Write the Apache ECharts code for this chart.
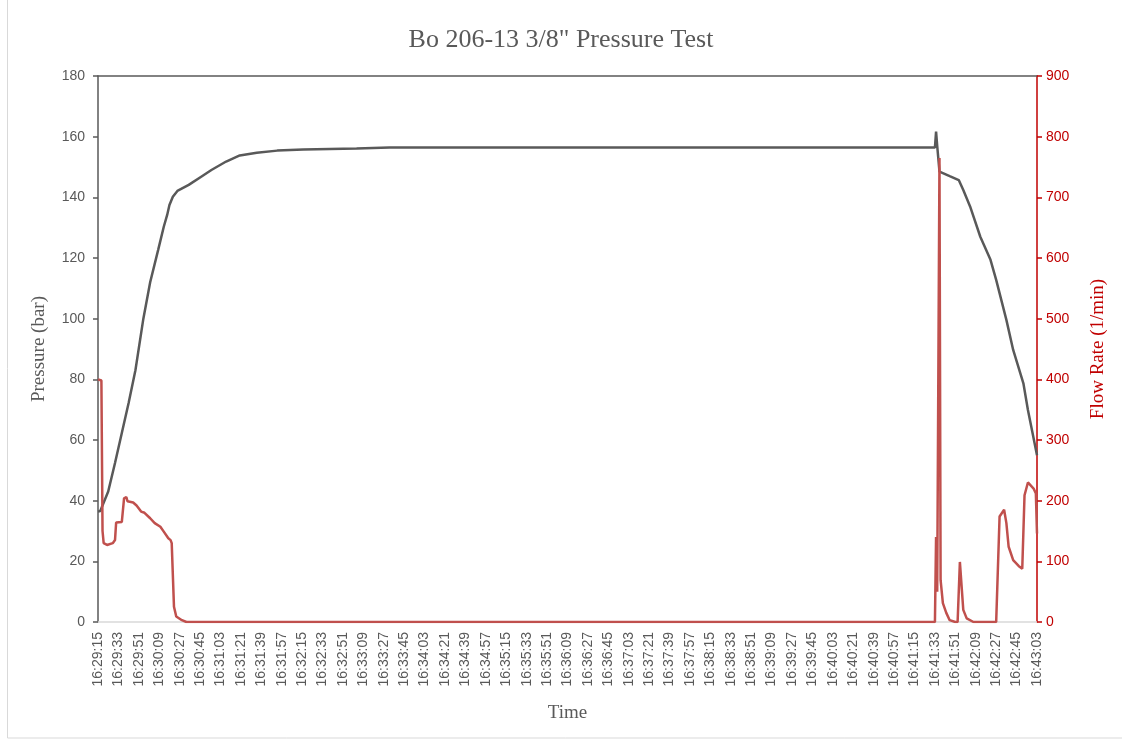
<!DOCTYPE html>
<html>
<head>
<meta charset="utf-8">
<script src="https://cdn.jsdelivr.net/npm/echarts@6/dist/echarts.min.js"></script>
<style>
  html, body { margin: 0; padding: 0; background: #fff; }
  #chart { width: 1122px; height: 742px; }
</style>
</head>
<body>
<div id="chart"></div>
<script>
// readings taken off the plot (clock time, value)
var startTime = '16:29:15';
var endTime = '16:43:03';

var pressureTimes = ['16:29:15', '16:29:17', '16:29:24', '16:29:30', '16:29:36', '16:29:42', '16:29:48',
    '16:29:55', '16:30:01', '16:30:08', '16:30:13', '16:30:16', '16:30:18', '16:30:21', '16:30:25',
    '16:30:35', '16:30:46', '16:30:55', '16:31:08', '16:31:20', '16:31:35', '16:31:53', '16:32:16',
    '16:33:03', '16:33:32', '16:41:33', '16:41:34', '16:41:35', '16:41:37', '16:41:46', '16:41:54',
    '16:41:58', '16:42:04', '16:42:13', '16:42:22', '16:42:27', '16:42:36', '16:42:42', '16:42:51',
    '16:42:55', '16:43:03'];
var pressureValues = [36.4, 36.6, 43, 52.4, 62.3, 72.2, 83,
    100, 112, 122.6, 130.3, 134.2, 137.5, 140.2, 142.1,
    144.1, 146.8, 149, 151.8, 153.8, 154.7, 155.4, 155.8,
    156.1, 156.4, 156.4, 161.7, 157, 148.5, 147, 145.7,
    142.4, 137, 127, 119.4, 112.8, 99.6, 89.7, 78.7,
    69.9, 55];

var flowTimes = ['16:29:15', '16:29:18', '16:29:19', '16:29:20', '16:29:23', '16:29:28', '16:29:30',
    '16:29:31', '16:29:36', '16:29:38', '16:29:40', '16:29:41', '16:29:46', '16:29:49', '16:29:53',
    '16:29:56', '16:30:01', '16:30:05', '16:30:10', '16:30:13', '16:30:17', '16:30:19', '16:30:20',
    '16:30:22', '16:30:24', '16:30:29', '16:30:33', '16:41:33', '16:41:34', '16:41:35', '16:41:37',
    '16:41:38', '16:41:40', '16:41:43', '16:41:46', '16:41:51', '16:41:53', '16:41:55', '16:41:58',
    '16:42:01', '16:42:07', '16:42:27', '16:42:30', '16:42:34', '16:42:36', '16:42:38', '16:42:42',
    '16:42:47', '16:42:50', '16:42:52', '16:42:55', '16:43:00', '16:43:02', '16:43:03'];
var flowValues = [400, 398, 150, 130, 127, 130, 135,
    164, 165, 204, 206, 199, 197, 192, 182,
    180, 171, 163, 157, 149, 138, 135, 130,
    25, 9, 3, 0, 0, 140, 50, 765,
    69, 31, 15, 3, 0, 0, 99, 20,
    6, 0, 0, 174, 185, 163, 124, 102,
    92, 88, 209, 230, 220, 212, 146];

function toSec(t) {
    var p = t.split(':');
    return (+p[0]) * 3600 + (+p[1]) * 60 + (+p[2]);
}
function toClock(s) {
    var h = Math.floor(s / 3600), m = Math.floor((s % 3600) / 60), x = s % 60;
    var pad = function (n) { return (n < 10 ? '0' : '') + n; };
    return h + ':' + pad(m) + ':' + pad(x);
}

var t0 = toSec(startTime);
var span = toSec(endTime) - t0;
var pressureData = pressureTimes.map(function (t, i) { return [toSec(t) - t0, pressureValues[i]]; });
var flowData = flowTimes.map(function (t, i) { return [toSec(t) - t0, flowValues[i]]; });

var chart = echarts.init(document.getElementById('chart'));
var serif = '"Liberation Serif", serif';
var sans = '"Liberation Sans", sans-serif';

var option = {
    animation: false,
    title: {
        text: 'Bo 206-13 3/8" Pressure Test',
        left: 'center',
        top: 22,
        textStyle: { fontFamily: serif, fontSize: 26, fontWeight: 'normal', color: '#595959' }
    },
    grid: { left: 98, right: 85, top: 76, bottom: 120 },
    graphic: [{
        type: 'rect',
        shape: { x: 7.5, y: -2, width: 1120, height: 740 },
        style: { fill: 'none', stroke: '#d9d9d9', lineWidth: 1 },
        silent: true
    }],
    xAxis: [{
        type: 'value',
        min: 0,
        max: span,
        interval: 18,
        name: 'Time',
        nameLocation: 'middle',
        nameGap: 82,
        nameTextStyle: { fontFamily: serif, fontSize: 19, color: '#595959' },
        axisLine: { onZero: false, lineStyle: { color: '#d9d9d9', width: 1.5 } },
        axisTick: { show: false },
        splitLine: { show: false },
        axisLabel: {
            rotate: 90,
            margin: 10,
            fontFamily: sans,
            fontSize: 14,
            color: '#595959',
            showMaxLabel: true,
            hideOverlap: false,
            formatter: function (v) { return toClock(t0 + v); }
        }
    }, {
        type: 'value',
        position: 'top',
        min: 0,
        max: span,
        axisLine: { onZero: false, lineStyle: { color: '#595959', width: 1.5 } },
        axisTick: { show: false },
        axisLabel: { show: false },
        splitLine: { show: false }
    }],
    yAxis: [{
        type: 'value',
        min: 0,
        max: 180,
        interval: 20,
        position: 'left',
        name: 'Pressure (bar)',
        nameLocation: 'middle',
        nameGap: 49,
        nameRotate: 90,
        nameTextStyle: { fontFamily: serif, fontSize: 19, color: '#595959' },
        axisLine: { show: true, onZero: false, lineStyle: { color: '#595959', width: 1.5 } },
        axisTick: { show: true, length: 5, lineStyle: { color: '#595959', width: 1.5 } },
        splitLine: { show: false },
        axisLabel: { margin: 13, fontFamily: sans, fontSize: 14, color: '#595959' }
    }, {
        type: 'value',
        min: 0,
        max: 900,
        interval: 100,
        position: 'right',
        name: 'Flow Rate (1/min)',
        nameLocation: 'middle',
        nameGap: 52,
        nameRotate: 90,
        nameTextStyle: { fontFamily: serif, fontSize: 19, color: '#c00000' },
        axisLine: { show: true, onZero: false, lineStyle: { color: '#c00000', width: 1.5 } },
        axisTick: { show: true, length: 5, lineStyle: { color: '#c00000', width: 1.5 } },
        splitLine: { show: false },
        axisLabel: { margin: 9, fontFamily: sans, fontSize: 14, color: '#c00000' }
    }],
    series: [{
        name: 'Pressure',
        type: 'line',
        xAxisIndex: 0,
        yAxisIndex: 0,
        data: pressureData,
        showSymbol: false,
        lineStyle: { color: '#595959', width: 2.5 },
        z: 2
    }, {
        name: 'Flow Rate',
        type: 'line',
        xAxisIndex: 0,
        yAxisIndex: 1,
        data: flowData,
        showSymbol: false,
        lineStyle: { color: '#c0504d', width: 2.5 },
        z: 3
    }]
};
chart.setOption(option);
</script>
</body>
</html>
